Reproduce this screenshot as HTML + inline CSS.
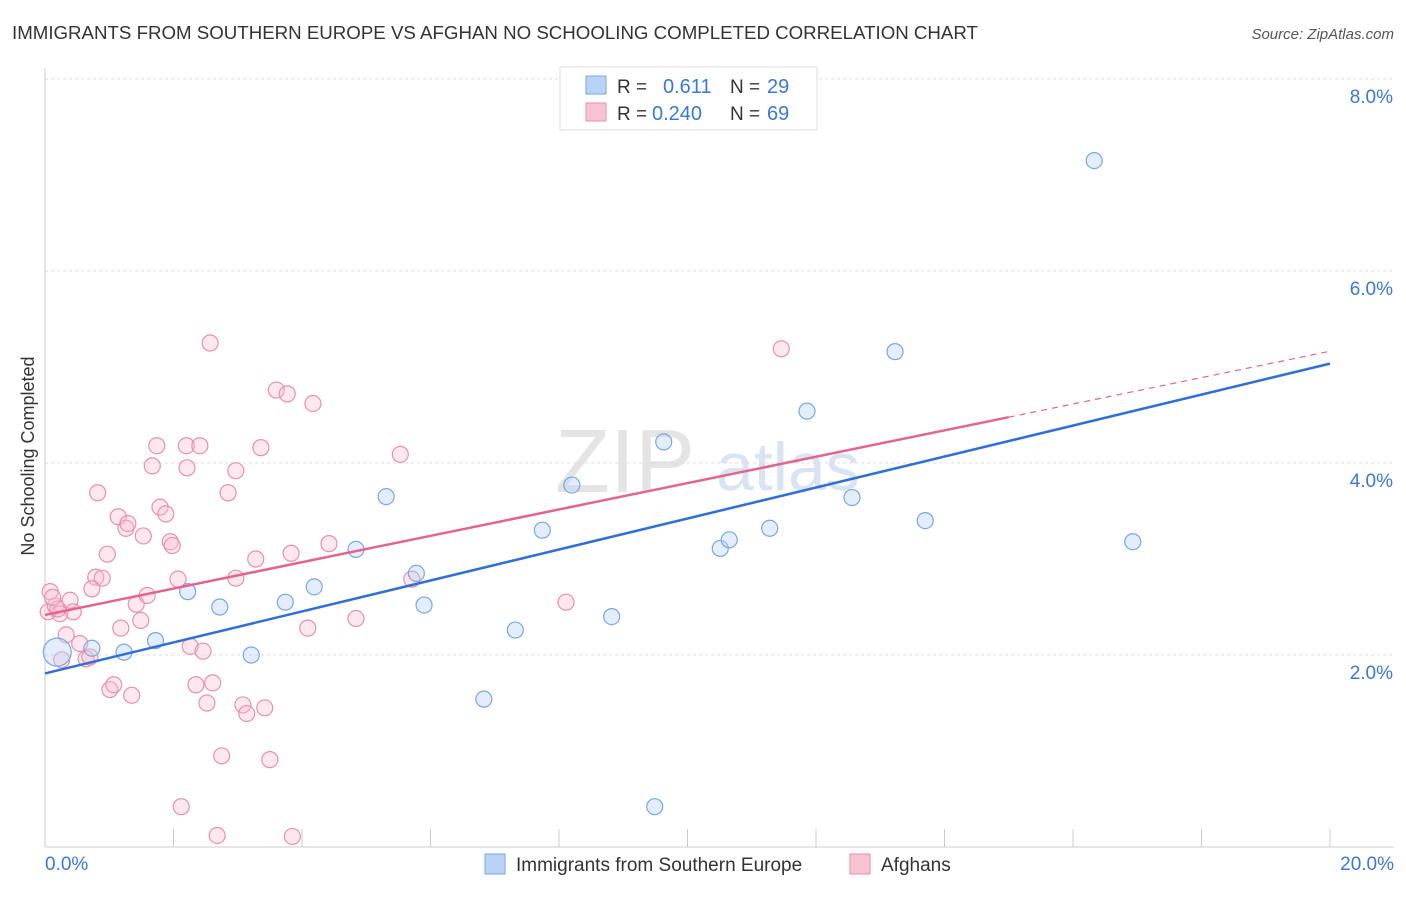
<!DOCTYPE html>
<html><head><meta charset="utf-8"><style>
body{margin:0;background:#fff;font-family:"Liberation Sans",sans-serif;}
svg text{font-family:"Liberation Sans",sans-serif;}
</style></head><body>
<svg id="chart" width="1406" height="892">
<text x="12" y="39" font-size="18.7" fill="#333">IMMIGRANTS FROM SOUTHERN EUROPE VS AFGHAN NO SCHOOLING COMPLETED CORRELATION CHART</text>
<text x="1394" y="39" font-size="15" fill="#555" font-style="italic" text-anchor="end">Source: ZipAtlas.com</text>
<text x="555" y="492" font-size="90" fill="#e4e4e4" font-family="Liberation Serif">ZIP</text>
<text x="716" y="490" font-size="68" fill="#d8e4f2">atlas</text>
<g id="grid"></g>
<g id="axes"></g>
<g id="marks"></g>
<text transform="translate(34,456) rotate(-90)" font-size="18" fill="#333" text-anchor="middle">No Schooling Completed</text>
<g>
<rect x="560" y="67" width="257" height="63" fill="#fff" stroke="#ddd"/>
<rect x="586" y="76" width="20" height="18" fill="#b8d3f5" stroke="#7aa7e0"/>
<text x="617" y="93" font-size="19" fill="#333">R =</text><text x="663" y="93" font-size="20" fill="#3a78d8">0.611</text>
<text x="730" y="93" font-size="19" fill="#333">N =</text><text x="767" y="93" font-size="20" fill="#3a78d8">29</text>
<rect x="586" y="103" width="20" height="18" fill="#f8c4d4" stroke="#e990ad"/>
<text x="617" y="120" font-size="19" fill="#333">R =</text><text x="652" y="120" font-size="20" fill="#3a78d8">0.240</text>
<text x="730" y="120" font-size="19" fill="#333">N =</text><text x="767" y="120" font-size="20" fill="#3a78d8">69</text>
</g>
<g>
<rect x="485" y="854" width="20" height="20" fill="#b8d3f5" stroke="#7aa7e0"/>
<text x="516" y="871" font-size="19" fill="#333">Immigrants from Southern Europe</text>
<rect x="850" y="854" width="20" height="20" fill="#f8c4d4" stroke="#e990ad"/>
<text x="881" y="871" font-size="19" fill="#333">Afghans</text>
</g>
</svg>
<script>
const yTicks=[2,4,6,8];
const xTickLabels=["0.0%","20.0%"];
const blueX=[0.19,0.73,1.23,1.72,2.22,2.72,3.21,3.74,4.19,4.84,5.31,5.78,5.9,7.32,7.74,8.2,8.82,9.49,9.63,6.83,10.51,10.65,11.28,11.86,12.56,13.23,13.7,16.33,16.93];
const blueY=[2.03,2.07,2.03,2.15,2.66,2.5,2.0,2.55,2.71,3.1,3.65,2.85,2.52,2.26,3.3,3.77,2.4,0.42,4.22,1.54,3.11,3.2,3.32,4.54,3.64,5.16,3.4,7.15,3.18];
const pinkX=[0.08,0.05,0.16,0.23,0.39,0.44,0.33,0.26,0.54,0.64,0.7,0.82,0.79,0.89,0.97,0.73,1.01,1.07,1.14,1.26,1.29,1.18,1.35,1.42,1.49,1.53,1.59,1.67,1.74,1.79,1.88,1.95,1.98,2.07,2.12,2.2,2.21,2.26,2.35,2.41,2.46,2.52,2.57,2.61,2.68,2.75,2.85,2.97,2.97,3.08,3.14,3.28,3.36,3.42,3.5,3.6,3.77,3.83,3.85,4.09,4.17,4.42,4.84,5.53,5.71,8.11,11.46,0.2,0.12];
const pinkY=[2.66,2.45,2.51,2.43,2.57,2.45,2.21,1.95,2.12,1.96,1.98,3.69,2.81,2.8,3.05,2.69,1.64,1.69,3.44,3.32,3.37,2.28,1.58,2.53,2.36,3.24,2.62,3.97,4.18,3.54,3.47,3.18,3.14,2.79,0.42,4.18,3.95,2.09,1.69,4.18,2.04,1.5,5.25,1.71,0.12,0.95,3.69,3.92,2.8,1.48,1.39,3.0,4.16,1.45,0.91,4.76,4.72,3.06,0.11,2.28,4.62,3.16,2.38,4.09,2.79,2.55,5.19,2.48,2.6];
const X0=45,X1=1330,Y0=847;
const xs=v=>X0+(X1-X0)*v/20;
const ys=v=>Y0-96*v;
const NS="http://www.w3.org/2000/svg";
function mk(t,a,p){const e=document.createElementNS(NS,t);for(const k in a)e.setAttribute(k,a[k]);p.appendChild(e);return e;}
const grid=document.getElementById('grid'),axes=document.getElementById('axes'),marks=document.getElementById('marks');
mk('line',{x1:45,y1:79,x2:1394,y2:79,stroke:'#ddd','stroke-dasharray':'3,3'},grid);
yTicks.forEach(t=>{
 const l=mk('line',{x1:45,y1:ys(t),x2:1394,y2:ys(t),stroke:'#ddd','stroke-dasharray':'3,3'},grid);
 
 
 const tx=mk('text',{x:1393,y:ys(t)+24,'font-size':19,fill:'#3a78d8','text-anchor':'end'},axes);
 tx.textContent=t.toFixed(1)+'%';
 
 
});
mk('line',{x1:45,y1:68,x2:45,y2:847,stroke:'#ccc'},axes);
mk('line',{x1:45,y1:847,x2:1394,y2:847,stroke:'#ccc'},axes);
for(let i=1;i<=10;i++){mk('line',{x1:xs(i*2),y1:829,x2:xs(i*2),y2:847,stroke:'#ccc'},axes);}
const xl0=mk('text',{x:45,y:870,'font-size':19,fill:'#3a78d8'},axes);xl0.textContent=xTickLabels[0];


const xl1=mk('text',{x:1394,y:870,'font-size':19,fill:'#3a78d8','text-anchor':'end'},axes);xl1.textContent=xTickLabels[1];


pinkX.forEach((x,i)=>{const c=mk('circle',{cx:xs(x),cy:ys(pinkY[i]),r:8,fill:'rgba(248,190,208,0.35)',stroke:'#e990ad','stroke-width':1.2},marks);
 
 });
blueX.forEach((x,i)=>{const c=mk('circle',{cx:xs(x),cy:ys(blueY[i]),r:i==0?14:8,fill:'rgba(184,211,245,0.4)',stroke:'#7aa7e0','stroke-width':1.2},marks);
 
 });
function fit(X,Y){const n=X.length;let mx=0,my=0;X.forEach((x,i)=>{mx+=x;my+=Y[i]});mx/=n;my/=n;let sxy=0,sxx=0;X.forEach((x,i)=>{sxy+=(x-mx)*(Y[i]-my);sxx+=(x-mx)**2});const b=sxy/sxx;return [my-b*mx,b];}
const [ba,bb]=fit(blueX,blueY);
const bl=mk('line',{x1:xs(0),y1:ys(ba),x2:xs(20),y2:ys(ba+bb*20),stroke:'#2f6fd6','stroke-width':2.5},marks);


const [pa,pb]=fit(pinkX,pinkY);
const pl=mk('line',{x1:xs(0),y1:ys(pa),x2:xs(15),y2:ys(pa+pb*15),stroke:'#e5638f','stroke-width':2.5},marks);


const pd=mk('line',{x1:xs(15),y1:ys(pa+pb*15),x2:xs(20),y2:ys(pa+pb*20),stroke:'#e5638f','stroke-width':1.2,'stroke-dasharray':'6,5'},marks);


</script>
</body></html>
